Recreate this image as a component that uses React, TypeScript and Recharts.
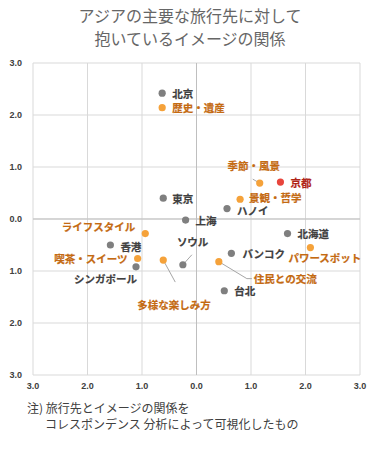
import React from "react";
import {
  ScatterChart,
  Scatter,
  XAxis,
  YAxis,
  CartesianGrid,
  ReferenceLine,
} from "recharts";

// destinations (gray), Kyoto is the highlighted one
const cityNames = ["北京", "東京", "上海", "ハノイ", "香港", "シンガポール", "ソウル", "バンコク", "北海道", "台北", "京都"];
const cityX = [-0.63, -0.61, -0.2, 0.56, -1.58, -1.11, -0.25, 0.64, 1.67, 0.51, 1.54];
const cityY = [2.42, 0.4, -0.02, 0.2, -0.5, -0.92, -0.88, -0.66, -0.28, -1.38, 0.71];
const highlightCity = "京都";

// images (orange)
const imageNames = ["歴史・遺産", "季節・風景", "景観・哲学", "ライフスタイル", "喫茶・スイーツ", "多様な楽しみ方", "住民との交流", "パワースポット"];
const imageX = [-0.63, 1.16, 0.8, -0.94, -1.08, -0.61, 0.41, 2.09];
const imageY = [2.14, 0.69, 0.38, -0.28, -0.76, -0.79, -0.82, -0.55];

const axisTicks = [-3, -2, -1, 0, 1, 2, 3];

const cities = cityNames.map((name, i) => ({ name, x: cityX[i], y: cityY[i] }));
const images = imageNames.map((name, i) => ({ name, x: imageX[i], y: imageY[i] }));

// label placement relative to each point (pixels), plus optional leader line
type Place = { dx: number; dy: number; anchor?: "start" | "middle" | "end"; leader?: number[][] };
const labelPlace: Record<string, Place> = {
  "北京": { dx: 10, dy: 0 },
  "歴史・遺産": { dx: 10, dy: 0 },
  "東京": { dx: 9, dy: 0 },
  "上海": { dx: 10, dy: 0 },
  "ハノイ": { dx: 10, dy: 2 },
  "季節・風景": { dx: -6, dy: -18, anchor: "middle", leader: [[-7, -4], [0, 0]] },
  "京都": { dx: 10, dy: 0 },
  "景観・哲学": { dx: 9, dy: -2 },
  "ライフスタイル": { dx: -10, dy: -7, anchor: "end" },
  "香港": { dx: 10, dy: 1 },
  "喫茶・スイーツ": { dx: -10, dy: 0, anchor: "end" },
  "シンガポール": { dx: 1, dy: 12, anchor: "end" },
  "ソウル": { dx: -6, dy: -23, leader: [[0, 0], [9, -10]] },
  "多様な楽しみ方": { dx: -26, dy: 44, leader: [[0, 0], [12, 22]] },
  "北海道": { dx: 10, dy: 0 },
  "バンコク": { dx: 11, dy: 0 },
  "パワースポット": { dx: -22, dy: 10 },
  "住民との交流": { dx: 35, dy: 17, leader: [[0, 0], [28, 17], [33, 17]] },
  "台北": { dx: 10, dy: 0 },
};

const jpFont = '"Noto Sans CJK JP", "Noto Sans", sans-serif';

function makeShape(fill: string, textFill: string) {
  return (props: any) => {
    const { cx, cy, payload } = props;
    const p = labelPlace[payload.name] || { dx: 10, dy: 0 };
    return (
      <g>
        {p.leader && (
          <polyline
            points={p.leader.map(([a, b]) => `${cx + a},${cy + b}`).join(" ")}
            fill="none"
            stroke="#A6A6A6"
            strokeWidth={1}
          />
        )}
        <circle cx={cx} cy={cy} r={3.6} fill={fill} />
        <text
          x={cx + p.dx}
          y={cy + p.dy}
          textAnchor={p.anchor || "start"}
          dominantBaseline="central"
          fontFamily={jpFont}
          fontSize={10.5}
          fontWeight="bold"
          fill={textFill}
          stroke={textFill}
          strokeWidth={0.2}
        >
          {payload.name}
        </text>
      </g>
    );
  };
}

const tickStyle = { fill: "#404040", fontSize: 9, fontWeight: "bold", fontFamily: '"Liberation Sans", Arial, sans-serif' };

export default function App() {
  return (
    <div style={{ position: "absolute", left: 0, top: 0, width: 380, height: 450, background: "#fff" }}>
      <div
        style={{
          position: "absolute",
          top: 4,
          left: 0,
          width: 380,
          textAlign: "center",
          fontFamily: jpFont,
          fontSize: 16,
          lineHeight: "23px",
          color: "#666",
        }}
      >
        アジアの主要な旅行先に対して
        <br />
        抱いているイメージの関係
      </div>
      <ScatterChart width={380} height={450} margin={{ top: 63, right: 20, bottom: 55, left: 0 }}>
        <CartesianGrid stroke="#D9D9D9" horizontalValues={axisTicks} verticalValues={axisTicks} />
        <XAxis
          type="number"
          dataKey="x"
          domain={[-3, 3]}
          ticks={axisTicks}
          tickFormatter={(v: number) => Math.abs(v).toFixed(1)}
          axisLine={false}
          tickLine={false}
          tick={tickStyle}
          height={20}
        />
        <YAxis
          type="number"
          dataKey="y"
          domain={[-3, 3]}
          ticks={axisTicks}
          tickFormatter={(v: number) => Math.abs(v).toFixed(1)}
          axisLine={false}
          tickLine={false}
          tick={tickStyle}
          width={33}
          tickMargin={5}
        />
        <ReferenceLine x={0} stroke="#BFBFBF" />
        <ReferenceLine y={0} stroke="#BFBFBF" />
        <Scatter
          data={cities.filter((c) => c.name !== highlightCity)}
          shape={makeShape("#7F7F7F", "#404040")}
          isAnimationActive={false}
        />
        <Scatter
          data={images}
          shape={makeShape("#F5A23A", "#C46A12")}
          isAnimationActive={false}
        />
        <Scatter
          data={cities.filter((c) => c.name === highlightCity)}
          shape={makeShape("#E8453C", "#B02418")}
          isAnimationActive={false}
        />
      </ScatterChart>
      <div
        style={{
          position: "absolute",
          left: 27,
          top: 400,
          fontFamily: jpFont,
          fontSize: 12,
          lineHeight: "16px",
          color: "#404040",
          whiteSpace: "nowrap",
        }}
      >
        <div>注) 旅行先とイメージの関係を</div>
        <div style={{ marginLeft: 18 }}>コレスポンデンス 分析によって可視化したもの</div>
      </div>
    </div>
  );
}
